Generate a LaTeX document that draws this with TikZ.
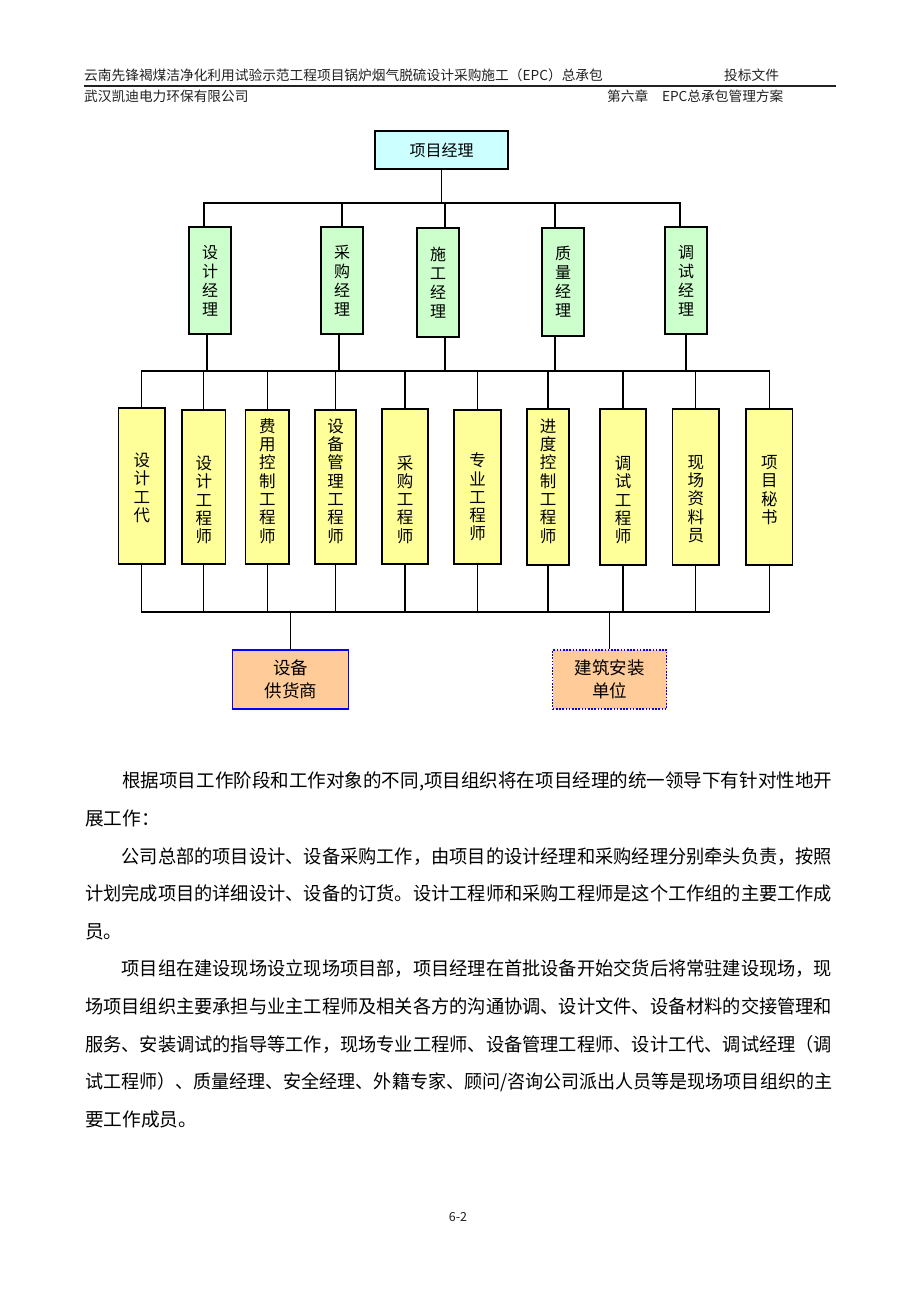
\documentclass[tikz,border=0pt]{standalone}
\usepackage{fontspec}
\usepackage{graphicx}
\setmainfont{Noto Sans CJK SC}
\usetikzlibrary{calc}
\definecolor{topc}{HTML}{CCFFFF}
\definecolor{mgrc}{HTML}{CCFFCC}
\definecolor{staffc}{HTML}{FFFF99}
\definecolor{supc}{HTML}{FFCC99}
\definecolor{bordblue}{HTML}{0000FF}
\definecolor{hdr}{HTML}{222222}
\newcommand{\jline}[1]{\resizebox{747pt}{\height}{#1}}
\begin{document}
\begin{tikzpicture}[x=1pt,y=-1pt,
  box/.style={draw=black, line width=1.3pt, inner sep=0pt, align=center},
  topbox/.style={box, fill=topc, minimum width=133pt, minimum height=38pt, font=\fontsize{16}{19}\selectfont},
  mgr/.style={box, fill=mgrc, minimum width=42pt, font=\fontsize{16}{19}\selectfont},
  staff/.style={box, fill=staffc, minimum height=156pt},
  stafftxt/.style={inner sep=0pt, align=center, font=\fontsize{16.5}{18.3}\selectfont},
  sup/.style={box, fill=supc, draw=bordblue, minimum width=116pt, minimum height=59pt, font=\fontsize{17.5}{23.5}\selectfont},
  conn/.style={line width=1.3pt, black},
  body/.style={anchor=west, inner sep=0pt, font=\fontsize{18.67}{22}\selectfont, text height=16.4pt, text depth=2.2pt},
  head/.style={anchor=west, inner sep=0pt, text=hdr, font=\fontsize{13.7}{16}\selectfont, text height=12.1pt, text depth=1.6pt}
]
\path[use as bounding box, fill=white] (0,0) rectangle (920,1302);

% header
\node[head] (h1) at (84,75) {云南先锋褐煤洁净化利用试验示范工程项目锅炉烟气脱硫设计采购施工（EPC）总承包};
\node[head] (h2) at (724,75) {投标文件};
\node[head] (h3) at (84,96) {武汉凯迪电力环保有限公司};
\node[head] (h4) at (607,96) {第六章\hspace{1em}EPC总承包管理方案};
\coordinate (r1) at (84,86);
\coordinate (r2) at (836,86);
\draw[line width=1.6pt, hdr] (r1) -- (r2);

% top
\node[topbox] (pm) at (441.5,150) {项目经理};

% managers
\node[mgr, minimum height=107pt] (m1) at (210,280.5) {设\\计\\经\\理};
\node[mgr, minimum height=107pt] (m2) at (342,280.5) {采\\购\\经\\理};
\node[mgr, minimum height=109pt] (m3) at (438,282.5) {施\\工\\经\\理};
\node[mgr, minimum height=108pt] (m4) at (563,282) {质\\量\\经\\理};
\node[mgr, minimum height=107pt] (m5) at (686,280.5) {调\\试\\经\\理};

% staff boxes
\node[staff, minimum width=46.5pt] (s1) at (141.75,486) {};
\node[staff, minimum width=43.6pt, minimum height=154pt] (s2) at (203.8,487) {};
\node[staff, minimum width=43.3pt, minimum height=154pt] (s3) at (267.3,487) {};
\node[staff, minimum width=41pt, minimum height=154pt] (s4) at (335.5,487) {};
\node[staff, minimum width=46pt, minimum height=155pt] (s5) at (405,486.5) {};
\node[staff, minimum width=47pt, minimum height=154pt] (s6) at (477.5,487) {};
\node[staff, minimum width=42pt] (s7) at (548,487) {};
\node[staff, minimum width=46pt] (s8) at (623,487) {};
\node[staff, minimum width=46.5pt] (s9) at (695.75,487) {};
\node[staff, minimum width=46.6pt] (s10) at (769.3,487) {};

\node[stafftxt] (t1) at ($(s1.center)+(0,2)$) {设\\计\\工\\代};
\node[stafftxt] (t2) at ($(s2.center)+(0,13)$) {设\\计\\工\\程\\师};
\node[stafftxt] (t3) at ($(s3.center)+(0,-6)$) {费\\用\\控\\制\\工\\程\\师};
\node[stafftxt] (t4) at ($(s4.center)+(0,-6)$) {设\\备\\管\\理\\工\\程\\师};
\node[stafftxt] (t5) at ($(s5.center)+(0,13)$) {采\\购\\工\\程\\师};
\node[stafftxt] (t6) at ($(s6.center)+(0,10)$) {专\\业\\工\\程\\师};
\node[stafftxt] (t7) at ($(s7.center)+(0,-6)$) {进\\度\\控\\制\\工\\程\\师};
\node[stafftxt] (t8) at ($(s8.center)+(0,13)$) {调\\试\\工\\程\\师};
\node[stafftxt] (t9) at ($(s9.center)+(0,12)$) {现\\场\\资\\料\\员};
\node[stafftxt] (t10) at ($(s10.center)+(0,3)$) {项\\目\\秘\\书};

% bottom boxes
\node[sup] (sp) at (290.8,679.5) {设备\\供货商};
\node[sup, dash pattern=on 1.6pt off 1.6pt, minimum width=114pt] (cn) at (609.7,679.5) {建筑安装\\单位};

% buses
\coordinate (bus1) at (0,203);
\coordinate (bus2) at (0,371);
\coordinate (bus3) at (0,612);

\draw[conn] (pm.south) -- (pm.south |- bus1);
\draw[conn] ($(m1.north)+(-6,0)$) -- ($(m1.north |- bus1)+(-6,0)$) -- ($(m5.north |- bus1)+(-6,0)$) -- ($(m5.north)+(-6,0)$);
\draw[conn] (m2.north) -- (m2.north |- bus1);
\draw[conn] ($(m3.north)+(7,0)$) -- ($(m3.north |- bus1)+(7,0)$);
\draw[conn] ($(m4.north)+(-8,0)$) -- ($(m4.north |- bus1)+(-8,0)$);

\draw[conn] ($(m1.south)+(-3,0)$) -- ($(m1.south |- bus2)+(-3,0)$);
\draw[conn] ($(m2.south)+(-3,0)$) -- ($(m2.south |- bus2)+(-3,0)$);
\draw[conn] ($(m3.south)+(7,0)$) -- ($(m3.south |- bus2)+(7,0)$);
\draw[conn] ($(m4.south)+(-8,0)$) -- ($(m4.south |- bus2)+(-8,0)$);
\draw[conn] (m5.south) -- (m5.south |- bus2);

\draw[conn] (s1.north) -- (s1.north |- bus2) -- (s10.north |- bus2) -- (s10.north);
\foreach \i in {2,...,9} \draw[conn] (s\i.north) -- (s\i.north |- bus2);

\draw[conn] (s1.south) -- (s1.south |- bus3) -- (s10.south |- bus3) -- (s10.south);
\foreach \i in {2,...,9} \draw[conn] (s\i.south) -- (s\i.south |- bus3);

\draw[conn] (sp.north) -- (sp.north |- bus3);
\draw[conn] (cn.north) -- (cn.north |- bus3);

% body text
\node[body] (p1) at (85,780.7) {\jline{\hspace{2em}根据项目工作阶段和工作对象的不同,项目组织将在项目经理的统一领导下有针对性地开}};
\node[body] (p2) at (85,818.3) {展工作：};
\node[body] (p3) at (85,855.9) {\jline{\hspace{2em}公司总部的项目设计、设备采购工作，由项目的设计经理和采购经理分别牵头负责，按照}};
\node[body] (p4) at (85,893.5) {\jline{计划完成项目的详细设计、设备的订货。设计工程师和采购工程师是这个工作组的主要工作成}};
\node[body] (p5) at (85,931.1) {员。};
\node[body] (p6) at (85,968.7) {\jline{\hspace{2em}项目组在建设现场设立现场项目部，项目经理在首批设备开始交货后将常驻建设现场，现}};
\node[body] (p7) at (85,1006.3) {\jline{场项目组织主要承担与业主工程师及相关各方的沟通协调、设计文件、设备材料的交接管理和}};
\node[body] (p8) at (85,1043.9) {\jline{服务、安装调试的指导等工作，现场专业工程师、设备管理工程师、设计工代、调试经理（调}};
\node[body] (p9) at (85,1081.5) {\jline{试工程师）、质量经理、安全经理、外籍专家、顾问/咨询公司派出人员等是现场项目组织的主}};
\node[body] (p10) at (85,1119.1) {要工作成员。};

\node[inner sep=0pt, font=\fontsize{12.5}{14}\selectfont, text=hdr] (pg) at (458,1217) {6-2};
\end{tikzpicture}
\end{document}
